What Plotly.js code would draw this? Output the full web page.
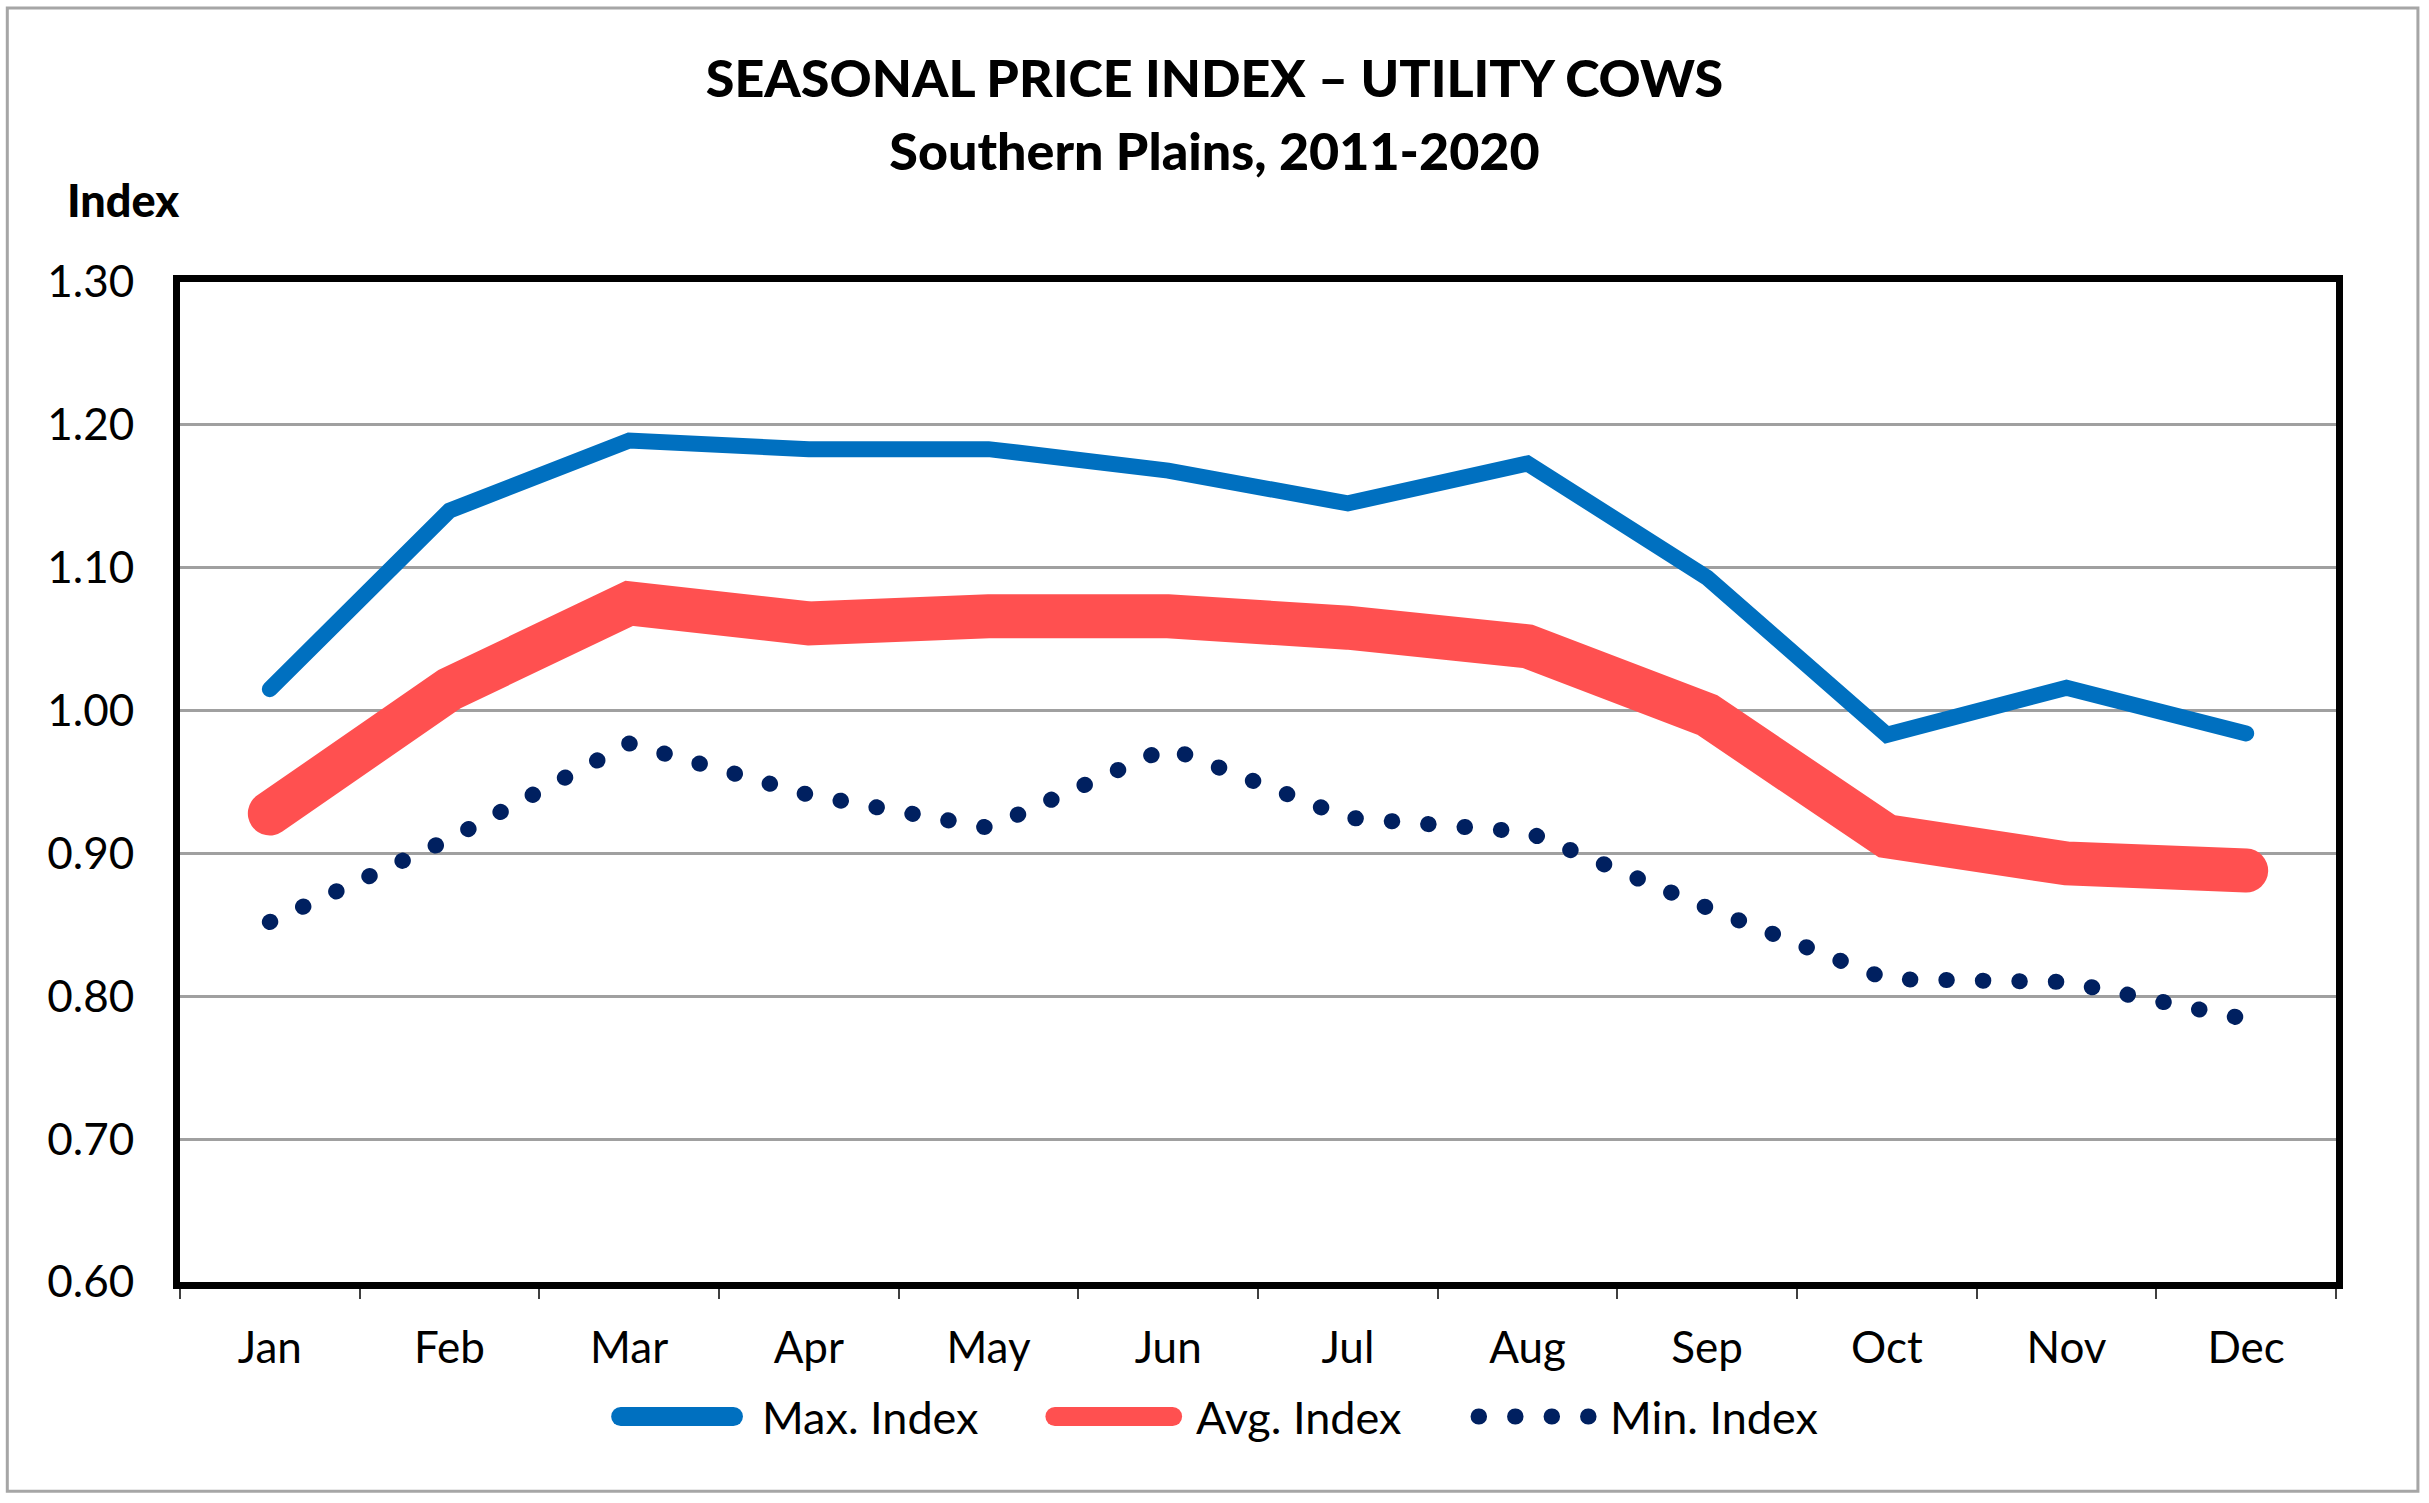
<!DOCTYPE html>
<html>
<head>
<meta charset="utf-8">
<script src="https://cdn.plot.ly/plotly-3.0.1.min.js"></script>
<style>
body { margin: 0; background: #fff; }
#chart { width: 2429px; height: 1503px; }
/* round ends so the dash pattern turns into dots */
.scatterlayer .js-line, .shapelayer path { stroke-linecap: round; }
</style>
</head>
<body>
<div id="chart"></div>
<script>
var months = ['Jan', 'Feb', 'Mar', 'Apr', 'May', 'Jun', 'Jul', 'Aug', 'Sep', 'Oct', 'Nov', 'Dec'];
var maxIndex = [1.015, 1.140, 1.189, 1.183, 1.183, 1.168, 1.145, 1.173, 1.093, 0.983, 1.016, 0.984];
var avgIndex = [0.928, 1.015, 1.075, 1.061, 1.066, 1.066, 1.058, 1.045, 0.997, 0.912, 0.893, 0.888];
var minIndex = [0.852, 0.910, 0.977, 0.941, 0.918, 0.974, 0.925, 0.915, 0.862, 0.812, 0.810, 0.784];
var seriesNames = ['Max. Index', 'Avg. Index', 'Min. Index'];

var blue = '#0070C0';
var red = '#FF5050';
var navy = '#002060';
var fnt = 'Lato, "Open Sans", sans-serif';

var traces = [
  { x: months, y: maxIndex, name: seriesNames[0], type: 'scatter', mode: 'lines',
    line: { color: blue, width: 16 } },
  { x: months, y: avgIndex, name: seriesNames[1], type: 'scatter', mode: 'lines',
    line: { color: red, width: 44 } },
  { x: months, y: minIndex, name: seriesNames[2], type: 'scatter', mode: 'lines',
    line: { color: navy, width: 16, dash: '0.5px,36px' } }
];

// hand made legend (long symbols like the original)
var legY = -0.1345;
var shapes = [
  { type: 'rect', xref: 'paper', yref: 'paper', x0: -0.0801, x1: 1.0380, y0: -0.2092, y1: 1.2739,
    line: { color: '#a6a6a6', width: 3 }, fillcolor: 'rgba(0,0,0,0)', layer: 'below' },
  { type: 'line', xref: 'paper', yref: 'paper', x0: 0.2044, x1: 0.2567, y0: legY, y1: legY,
    line: { color: blue, width: 19 } },
  { type: 'line', xref: 'paper', yref: 'paper', x0: 0.4058, x1: 0.4604, y0: legY, y1: legY,
    line: { color: red, width: 19 } },
  { type: 'line', xref: 'paper', yref: 'paper', x0: 0.6023, x1: 0.6555, y0: legY, y1: legY,
    line: { color: navy, width: 16, dash: '0.5px,36px' } }
];
var legX = [0.2690, 0.4704, 0.6625];
var annotations = seriesNames.map(function (n, i) {
  return { text: n, xref: 'paper', yref: 'paper', x: legX[i], y: legY, xanchor: 'left', yanchor: 'middle',
    showarrow: false, font: { family: fnt, size: 45, color: '#000' } };
});
annotations.push({ text: 'Index', xref: 'paper', yref: 'paper', x: -0.0535, y: 1.0817,
  xanchor: 'left', yanchor: 'middle', showarrow: false,
  font: { family: fnt, size: 45, color: '#000', weight: 900 } });

var layout = {
  width: 2429, height: 1503,
  margin: { l: 180, r: 93, t: 282, b: 221 },
  paper_bgcolor: '#fff', plot_bgcolor: '#fff',
  showlegend: false,
  title: {
    text: '<span style="font-size:52px">SEASONAL PRICE INDEX – UTILITY COWS</span><br>' +
          '<span style="font-size:52px">Southern Plains, 2011-2020</span>',
    font: { family: fnt, size: 56, color: '#000', weight: 900 },
    x: 0.5, xref: 'container', xanchor: 'center',
    y: 1 - 97 / 1503, yref: 'container', yanchor: 'middle'
  },
  xaxis: {
    type: 'category', range: [-0.5, 11.5], tickson: 'boundaries',
    ticks: 'outside', ticklen: 10, tickwidth: 2, tickcolor: '#404040',
    showline: true, linewidth: 7, linecolor: '#000', mirror: true,
    showgrid: false, zeroline: false, ticklabelstandoff: 21,
    tickfont: { family: fnt, size: 44, color: '#000' }
  },
  yaxis: {
    range: [0.6, 1.3], dtick: 0.1, tick0: 0.6, tickformat: '.2f',
    showgrid: true, gridcolor: '#a0a0a0', gridwidth: 3,
    showline: true, linewidth: 7, linecolor: '#000', mirror: true,
    zeroline: false, ticks: '', ticklabelstandoff: 30,
    tickfont: { family: fnt, size: 44, color: '#000' }
  },
  shapes: shapes,
  annotations: annotations
};

Plotly.newPlot('chart', traces, layout, { displayModeBar: false, staticPlot: true });
</script>
</body>
</html>
